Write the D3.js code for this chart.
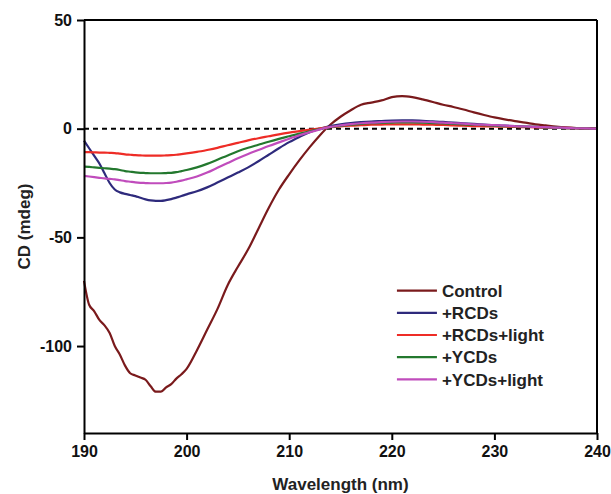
<!DOCTYPE html>
<html>
<head>
<meta charset="utf-8">
<script src="https://cdn.jsdelivr.net/npm/d3@7"></script>
<style>
  body { margin: 0; background: #fff; }
  text { font-family: "Liberation Sans", Arial, sans-serif; font-weight: bold; }
</style>
</head>
<body>
<div id="chart-container"></div>
<script>
// wavelength grid (nm)
const wavelengths = [190,190.5,191,191.5,192,192.5,193,193.5,194,194.5,195,195.5,196,196.5,197,197.5,198,198.5,199,199.5,200,
  201,202,203,204,205,206,207,208,209,210,211,212,213,214,215,216,217,218,219,220,
  221,222,223,224,225,226,227,228,229,230,231,232,233,234,235,236,237,238,239,240];

const control = [-70,-81,-84,-88,-90.5,-94,-100,-104,-109,-112.5,-113.5,-114.5,-115.5,-118.5,-121,-121,-119,-117.5,-115,-113,-110.5,
  -102,-92.5,-83,-72,-63.5,-55.5,-46,-36.5,-28,-21,-14.5,-8.5,-3,1.8,5.5,8.5,11,12,13,14.5,
  15,14.5,13.5,12.3,11,10,8.8,7.5,6.3,5.2,4.3,3.5,2.8,2,1.5,1,0.6,0.3,0.1,0];

const rcds = [-5.5,-9,-12.5,-16,-20.5,-25,-28,-29.3,-30,-30.5,-31,-31.8,-32.5,-33,-33.2,-33.2,-32.9,-32.4,-31.7,-31,-30.2,
  -28.8,-27,-24.8,-22.5,-20.2,-17.8,-15,-12,-9,-6.2,-3.8,-1.6,0,1.2,2,2.6,3,3.3,3.5,3.7,
  3.8,3.8,3.6,3.4,3.1,2.8,2.5,2.2,1.9,1.6,1.4,1.2,1,0.8,0.6,0.5,0.3,0.2,0.1,0];

const rcdsLight = [-10.8,-10.8,-10.9,-11,-11,-11.1,-11.2,-11.5,-11.8,-12,-12.2,-12.3,-12.4,-12.4,-12.4,-12.4,-12.3,-12.2,-12,-11.7,-11.4,
  -10.7,-9.8,-8.8,-7.6,-6.5,-5.4,-4.4,-3.5,-2.6,-1.8,-1.1,-0.4,0.2,0.7,1.1,1.4,1.6,1.8,1.9,2,
  2,2,1.9,1.8,1.7,1.5,1.4,1.2,1.1,1,0.9,0.8,0.7,0.6,0.5,0.4,0.3,0.2,0.1,0];

const ycds = [-17.5,-17.6,-17.8,-18,-18.2,-18.4,-18.6,-19,-19.5,-19.8,-20.1,-20.3,-20.4,-20.5,-20.5,-20.5,-20.4,-20.3,-20,-19.5,-19,
  -17.8,-16.2,-14.3,-12.3,-10.4,-8.8,-7.4,-6,-4.7,-3.5,-2.3,-1.2,-0.2,0.7,1.3,1.8,2.2,2.5,2.7,2.8,
  2.9,2.9,2.8,2.6,2.4,2.2,2,1.8,1.6,1.4,1.2,1.1,0.9,0.8,0.6,0.5,0.3,0.2,0.1,0];

const ycdsLight = [-21.7,-22,-22.3,-22.6,-22.9,-23.1,-23.3,-23.7,-24.1,-24.4,-24.7,-24.9,-25,-25.1,-25.1,-25.1,-25,-24.8,-24.4,-23.9,-23.3,
  -22,-20.2,-18,-15.8,-13.6,-11.6,-9.8,-8,-6.3,-4.6,-3,-1.6,-0.3,0.8,1.5,2.1,2.5,2.8,3,3.2,
  3.3,3.3,3.2,3,2.8,2.5,2.3,2,1.8,1.6,1.4,1.2,1,0.8,0.7,0.5,0.4,0.2,0.1,0];

const seriesNames = ["Control", "+RCDs", "+RCDs+light", "+YCDs", "+YCDs+light"];
const seriesValues = [control, rcds, rcdsLight, ycds, ycdsLight];
const seriesColors = ["#7a1a1c", "#2e2a7c", "#ee2c26", "#23782e", "#c04cbc"];

const xTicks = [190, 200, 210, 220, 230, 240];
const yTicks = [50, 0, -50, -100];

// layout
const margin = { top: 20, right: 14, bottom: 61, left: 84 };
const width = 611 - margin.left - margin.right;
const height = 494 - margin.top - margin.bottom;

const x = d3.scaleLinear().domain([190, 240]).range([0, width]);
const y = d3.scaleLinear().domain([-140, 50]).range([height, 0]);

const svg = d3.select("#chart-container")
  .append("svg")
  .attr("width", 611)
  .attr("height", 494)
  .append("g")
  .attr("transform", `translate(${margin.left},${margin.top})`);

// zero line
svg.append("line")
  .attr("x1", 0).attr("x2", width)
  .attr("y1", y(0)).attr("y2", y(0))
  .attr("stroke", "#000")
  .attr("stroke-width", 2)
  .attr("stroke-dasharray", "5,4");

// curves
const line = d3.line()
  .x((d, i) => x(wavelengths[i]))
  .y(d => y(d))
  .curve(d3.curveMonotoneX);

seriesValues.forEach((vals, k) => {
  svg.append("path")
    .datum(vals)
    .attr("fill", "none")
    .attr("stroke", seriesColors[k])
    .attr("stroke-width", 2.2)
    .attr("d", line);
});

// axes
const xAxis = svg.append("g")
  .attr("transform", `translate(0,${height})`)
  .call(d3.axisBottom(x).tickValues(xTicks).tickSize(7).tickPadding(6).tickSizeOuter(0));

const yAxis = svg.append("g")
  .call(d3.axisLeft(y).tickValues(yTicks).tickFormat(d => String(d)).tickSize(7).tickPadding(5).tickSizeOuter(0));

[xAxis, yAxis].forEach(g => {
  g.select(".domain").attr("stroke-width", 2);
  g.selectAll(".tick line").attr("stroke-width", 2);
  g.selectAll(".tick text")
    .attr("font-size", 16)
    .attr("font-family", "'Liberation Sans', Arial, sans-serif")
    .attr("font-weight", "bold")
    .attr("fill", "#111");
});

// top and right border
svg.append("line")
  .attr("x1", 0).attr("x2", width).attr("y1", 0).attr("y2", 0)
  .attr("stroke", "#000").attr("stroke-width", 2);
svg.append("line")
  .attr("x1", width).attr("x2", width).attr("y1", 0).attr("y2", height)
  .attr("stroke", "#000").attr("stroke-width", 2);

// axis titles
svg.append("text")
  .attr("x", width / 2)
  .attr("y", height + 57)
  .attr("text-anchor", "middle")
  .attr("font-size", 17)
  .attr("fill", "#222")
  .text("Wavelength (nm)");

svg.append("text")
  .attr("transform", `translate(${-54},${height / 2}) rotate(-90)`)
  .attr("text-anchor", "middle")
  .attr("font-size", 17)
  .attr("fill", "#222")
  .text("CD (mdeg)");

// legend
const legend = svg.append("g")
  .attr("transform", `translate(${x(220.5)},${y(-74.5)})`);

seriesNames.forEach((name, k) => {
  const row = legend.append("g").attr("transform", `translate(0,${k * 22.2})`);
  row.append("line")
    .attr("x1", 0).attr("x2", 40)
    .attr("stroke", seriesColors[k])
    .attr("stroke-width", 2.2);
  row.append("text")
    .attr("x", 45)
    .attr("dy", "0.36em")
    .attr("font-size", 17)
    .attr("fill", "#222")
    .text(name);
});
</script>
</body>
</html>
